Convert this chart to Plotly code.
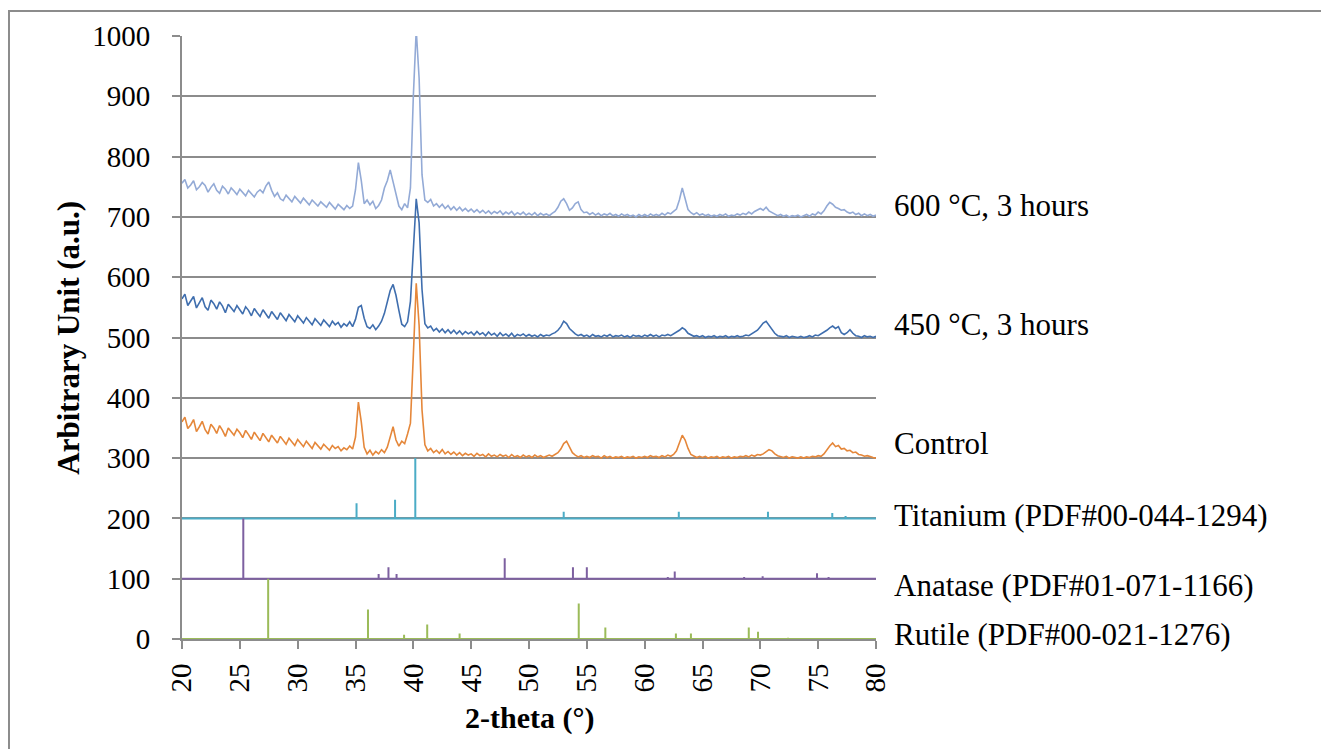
import numpy as np
import plotly.graph_objects as go

# 2-theta scan, 0.25 deg step
two_theta = np.round(np.arange(20, 80.001, 0.25), 2)

# 600 C, 3 hours (offset +700)
s600 = [756, 762, 748, 753, 760, 745, 750, 757, 752, 741, 749, 755, 744, 739, 751, 746, 738, 748, 743, 737,
        746, 741, 735, 744, 739, 733, 741, 745, 740, 751, 758, 744, 734, 740, 730, 727, 736, 731, 725, 734,
        729, 723, 731, 726, 720, 728, 723, 718, 725, 720, 716, 724, 719, 713, 721, 716, 712, 719, 714, 718,
        745, 790, 760, 722, 728, 720, 726, 714, 719, 728, 748, 760, 778, 758, 735, 718, 712, 722, 715, 748,
        900, 1010, 930, 770, 728, 724, 729, 718, 722, 716, 721, 714, 719, 712, 717, 711, 716, 710, 714, 709,
        713, 708, 712, 707, 711, 706, 710, 705, 709, 706, 710, 704, 708, 705, 709, 703, 707, 704, 708, 703,
        706, 703, 707, 702, 706, 703, 705, 702, 706, 709, 716, 726, 730, 722, 711, 715, 722, 725, 712, 707,
        708, 704, 707, 703, 706, 702, 705, 703, 706, 702, 704, 701, 705, 702, 704, 701, 703, 700, 704, 701,
        704, 701, 705, 702, 704, 702, 706, 703, 707, 705, 709, 713, 728, 748, 730, 712, 707, 704, 707, 703,
        705, 702, 704, 701, 703, 701, 704, 702, 705, 701, 703, 702, 705, 703, 706, 704, 708, 705, 709, 712,
        714, 711, 716, 710, 707, 704, 702, 704, 701, 703, 700, 702, 701, 703, 700, 702, 704, 701, 705, 703,
        708, 705, 710, 718, 724, 721, 716, 714, 711, 712, 708, 706, 708, 704, 706, 702, 705, 702, 704, 701,
        703]

# 450 C, 3 hours (offset +500)
s450 = [564, 572, 553, 560, 568, 549, 557, 566, 551, 545, 562, 556, 547, 559, 552, 541, 555, 549, 543, 553,
        547, 539, 551, 545, 536, 548, 541, 535, 546, 539, 532, 543, 537, 530, 541, 535, 528, 538, 531, 526,
        536, 530, 524, 533, 527, 521, 531, 525, 520, 529, 523, 518, 527, 521, 525, 517, 523, 519, 526, 518,
        530, 550, 553, 532, 518, 515, 521, 513, 519, 527, 540, 560, 578, 588, 570, 545, 522, 518, 526, 560,
        640, 730, 690, 580, 523, 516, 519, 511, 515, 509, 514, 508, 513, 507, 512, 506, 511, 505, 510, 506,
        509, 504, 510, 505, 508, 503, 509, 504, 507, 502, 508, 503, 506, 502, 507, 501, 505, 503, 506, 502,
        505, 502, 504, 501, 505, 502, 504, 503, 506, 508, 512, 518, 527, 523, 515, 510, 506, 503, 505, 502,
        504, 501, 505, 502, 503, 501, 504, 502, 505, 501, 503, 502, 504, 501, 503, 500, 504, 502, 503, 501,
        504, 502, 505, 502, 504, 501, 504, 503, 505, 503, 506, 508, 512, 516, 513, 507, 504, 502, 503, 501,
        503, 500, 502, 501, 503, 500, 502, 501, 503, 500, 502, 501, 503, 501, 502, 504, 503, 506, 508, 512,
        518, 524, 527, 520, 512, 507, 503, 502, 501, 503, 500, 502, 501, 500, 502, 500, 501, 503, 501, 504,
        503, 506, 508, 512, 516, 519, 515, 518, 508, 505, 508, 513, 507, 503, 502, 500, 503, 501, 502, 500,
        502]

# Control (offset +300)
s_ctrl = [360, 368, 349, 355, 364, 344, 352, 361, 347, 340, 356, 350, 341, 354, 346, 336, 350, 343, 338, 348,
          342, 334, 346, 339, 331, 343, 336, 329, 341, 334, 327, 338, 331, 325, 336, 329, 323, 333, 326, 321,
          331, 324, 319, 328, 322, 316, 326, 320, 315, 323, 318, 313, 321, 316, 319, 312, 317, 314, 320, 315,
          335, 393, 360, 318, 307, 313, 305, 311, 307, 314, 309, 318, 335, 352, 330, 320, 328, 324, 340, 358,
          470, 590, 520, 380, 322, 312, 316, 309, 313, 308, 314, 307, 311, 306, 310, 305, 309, 304, 308, 305,
          307, 303, 308, 304, 306, 302, 307, 303, 305, 302, 306, 303, 305, 301, 306, 302, 304, 301, 305, 302,
          304, 301, 305, 302, 304, 301, 303, 305, 303, 306, 309, 315, 324, 328, 318, 309, 305, 302, 304, 301,
          303, 301, 304, 302, 303, 300, 304, 301, 303, 300, 302, 301, 303, 300, 302, 301, 303, 300, 302, 301,
          303, 301, 304, 302, 303, 301, 304, 302, 305, 303, 306, 312, 325, 338, 330, 316, 306, 303, 301, 303,
          301, 303, 300, 302, 301, 303, 300, 302, 301, 303, 300, 302, 301, 303, 302, 304, 302, 305, 303, 306,
          305, 307, 310, 314, 312, 307, 304, 302, 301, 303, 300, 302, 301, 300, 302, 300, 302, 301, 303, 302,
          304, 303, 307, 314, 320, 325, 319, 321, 315, 316, 312, 313, 309, 310, 306, 305, 303, 304, 302, 301,
          300]

# reference patterns: peak positions and heights above their baseline
ti_pos = [35.09, 38.42, 40.17, 53.0, 62.95, 70.66, 74.16, 76.22, 77.37]
ti_h = [25, 31, 100, 11, 11, 11, 1, 9, 4]
ti_base = 200

ana_pos = [25.3, 37.0, 37.85, 38.55, 47.9, 53.8, 55.0, 62.0, 62.6, 68.6, 70.2, 73.9, 74.9, 75.9]
ana_h = [100, 8, 19, 8, 34, 19, 19, 3, 12, 3, 4, 1, 9, 3]
ana_base = 100

rut_pos = [27.45, 36.08, 39.2, 41.2, 44.0, 54.3, 56.6, 62.7, 64.0, 69.0, 69.8, 72.4]
rut_h = [100, 49, 7, 24, 9, 59, 19, 9, 9, 19, 12, 2]
rut_base = 0

labels = ["600 °C, 3 hours", "450 °C, 3 hours", "Control",
          "Titanium (PDF#00-044-1294)", "Anatase (PDF#01-071-1166)", "Rutile (PDF#00-021-1276)"]
label_y = [719, 522, 324, 204, 88, 7]

SERIF = "Liberation Serif, Times New Roman, serif"


def sticks(pos, h, base):
    xs, ys = [20], [base]
    for p, v in zip(pos, h):
        xs += [p, p, p]
        ys += [base, base + v, base]
    xs.append(80)
    ys.append(base)
    return xs, ys


fig = go.Figure()
fig.add_trace(go.Scatter(x=two_theta, y=s600, mode="lines", line=dict(color="#93AAD6", width=1.6)))
fig.add_trace(go.Scatter(x=two_theta, y=s450, mode="lines", line=dict(color="#3F6EAE", width=1.6)))
fig.add_trace(go.Scatter(x=two_theta, y=s_ctrl, mode="lines", line=dict(color="#E5873A", width=1.6)))

for (pos, h, base), col in [((ti_pos, ti_h, ti_base), "#4BACC6"),
                            ((ana_pos, ana_h, ana_base), "#7D60A0"),
                            ((rut_pos, rut_h, rut_base), "#9BBB59")]:
    xs, ys = sticks(pos, h, base)
    fig.add_trace(go.Scatter(x=xs, y=ys, mode="lines", line=dict(color=col, width=2)))

for txt, yy in zip(labels, label_y):
    fig.add_annotation(text=txt, x=1.023, xref="paper", xanchor="left", y=yy, yref="y", yanchor="middle",
                       showarrow=False, font=dict(family=SERIF, size=31, color="black"))

# axis titles
fig.add_annotation(text="<b>Arbitrary Unit (a.u.)</b>", x=-0.164, xref="paper", xanchor="center",
                   y=0.5, yref="paper", yanchor="middle", textangle=-90, showarrow=False,
                   font=dict(family=SERIF, size=31, color="black"))
fig.add_annotation(text="<b>2-theta (°)</b>", x=0.5, xref="paper", xanchor="center",
                   y=-0.131, yref="paper", yanchor="middle", showarrow=False,
                   font=dict(family=SERIF, size=30, color="black"))

# outer frame
fig.add_shape(type="rect", xref="paper", yref="paper", x0=-0.2493, x1=1.647, y0=-0.25, y1=1.0413,
              line=dict(color="#8C8C8C", width=2))

# page body adds 8px, so the margins are 8px smaller than the target positions
fig.update_layout(width=1329, height=749, showlegend=False,
                  plot_bgcolor="white", paper_bgcolor="white",
                  margin=dict(l=174, r=461, t=26, b=118),
                  font=dict(family=SERIF, size=29, color="black"))
fig.update_xaxes(range=[20, 80], tickmode="linear", tick0=20, dtick=5, tickangle=-90,
                 tickfont=dict(family=SERIF, size=29, color="black"), ticklabelstandoff=3,
                 showgrid=False, showline=True, linecolor="#8C8C8C", linewidth=2,
                 ticks="outside", ticklen=8, tickcolor="#8C8C8C", tickwidth=2, zeroline=False)
fig.update_yaxes(range=[0, 1000], tickmode="linear", tick0=0, dtick=100,
                 tickfont=dict(family=SERIF, size=29, color="black"), ticklabelstandoff=16,
                 showgrid=True, gridcolor="#8C8C8C", gridwidth=2,
                 showline=True, linecolor="#8C8C8C", linewidth=2,
                 ticks="outside", ticklen=8, tickcolor="#8C8C8C", tickwidth=2, zeroline=False)

fig.write_html("out.html")
